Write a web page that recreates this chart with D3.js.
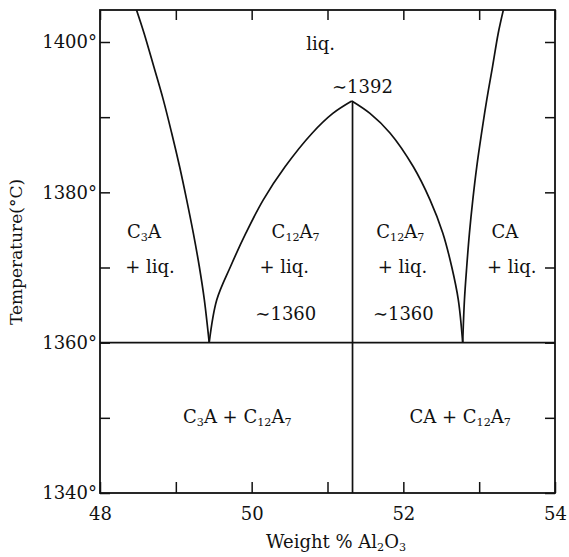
<!DOCTYPE html>
<html>
<head>
<meta charset="utf-8">
<script src="https://cdn.jsdelivr.net/npm/d3@7.9.0/dist/d3.min.js"></script>
<style>
  body { margin: 0; background: #fff; }
  text { font-family: "DejaVu Serif", "Liberation Serif", serif; fill: #111; }
</style>
</head>
<body>
<svg id="chart" width="569" height="557"></svg>
<script>
// axis ticks
const xTicks = [48, 49, 50, 51, 52, 53, 54];
const xLabels = [48, 50, 52, 54];
const yTicks = [1340, 1350, 1360, 1370, 1380, 1390, 1400];
const yLabels = [1340, 1360, 1380, 1400];

// phase boundaries (wt% Al2O3, °C)
const c3aLiquidus = [[48.48, 1404.3], [48.58, 1401.2], [48.71, 1396.7], [48.835, 1392.3], [48.945, 1387.9],
  [49.05, 1383.4], [49.143, 1379], [49.23, 1374.6], [49.31, 1370.1], [49.376, 1365.7], [49.44, 1360]];
const c12a7Left = [[49.44, 1360], [49.54, 1365.7], [49.72, 1370.1], [49.925, 1374.6], [50.153, 1379],
  [50.44, 1383.4], [50.8, 1387.9], [51.07, 1390.5], [51.32, 1392.15]];
const c12a7Right = [[51.32, 1392.15], [51.56, 1390.5], [51.824, 1387.9], [52.132, 1383.4], [52.352, 1379],
  [52.52, 1374.6], [52.638, 1370.1], [52.725, 1365.7], [52.783, 1360]];
const caLiquidus = [[52.783, 1360], [52.806, 1365.7], [52.836, 1370.1], [52.872, 1374.6], [52.916, 1379],
  [52.968, 1383.4], [53.032, 1387.9], [53.1, 1392.3], [53.176, 1396.7], [53.252, 1401.2], [53.32, 1404.3]];
const eutecticT = 1360;
const congruentX = 51.33;
const congruentT = 1392.15;

// region labels: text, wt%, °C (baseline)
const labels = [
  ["liq.", 50.91, 1398.9],
  ["∼1392", 51.46, 1393.2],
  ["C_3A", 48.58, 1373.9],
  ["+ liq.", 48.66, 1369.3],
  ["C_12A_7", 50.58, 1373.9],
  ["+ liq.", 50.43, 1369.3],
  ["∼1360", 50.45, 1363.0],
  ["C_12A_7", 51.96, 1373.9],
  ["+ liq.", 51.99, 1369.3],
  ["∼1360", 52.0, 1363.0],
  ["CA", 53.34, 1373.9],
  ["+ liq.", 53.43, 1369.3],
  ["C_3A + C_12A_7", 49.81, 1349.3],
  ["CA + C_12A_7", 52.75, 1349.3]
];

const padL = 100, padR = 555, padT = 10, padB = 493;
const x = d3.scaleLinear().domain([48, 54]).range([padL, padR]);
const y = d3.scaleLinear().domain([1340, 1400]).range([padB, 42]);

const svg = d3.select("#chart");

svg.append("clipPath").attr("id", "plot")
  .append("rect").attr("x", padL).attr("y", padT)
  .attr("width", padR - padL).attr("height", padB - padT);

// subscripts written as _digits
function richText(sel, str) {
  let shifted = false;
  str.split(/(_\d+)/).filter(s => s).forEach(part => {
    if (part[0] === "_") {
      sel.append("tspan").attr("font-size", "0.62em").attr("dy", 3).text(part.slice(1));
      shifted = true;
    } else {
      sel.append("tspan").attr("dy", shifted ? -3 : null).text(part);
      shifted = false;
    }
  });
}

const fmtX = d => xLabels.includes(d) ? d : "";
const fmtY = d => yLabels.includes(d) ? d + "°" : "";

function styleAxis(g) {
  g.select(".domain").remove();
  g.selectAll(".tick line").attr("stroke", "#111").attr("stroke-width", 1.5);
  g.selectAll("text").attr("fill", "#111").filter(function() { return this.textContent === ""; }).remove();
  g.attr("font-family", null);
}

svg.append("g").attr("transform", `translate(0,${padB})`)
  .call(d3.axisBottom(x).tickValues(xTicks).tickFormat(fmtX).tickSize(-11).tickPadding(14))
  .call(styleAxis).attr("font-size", 18);
svg.append("g").attr("transform", `translate(0,${padT})`)
  .call(d3.axisTop(x).tickValues(xTicks).tickFormat("").tickSize(-10))
  .call(styleAxis);
svg.append("g").attr("transform", `translate(${padL},0)`)
  .call(d3.axisLeft(y).tickValues(yTicks).tickFormat(fmtY).tickSize(-10).tickPadding(3))
  .call(styleAxis).attr("font-size", 18);
svg.append("g").attr("transform", `translate(${padR},0)`)
  .call(d3.axisRight(y).tickValues(yTicks).tickFormat("").tickSize(-10))
  .call(styleAxis);

svg.append("rect").attr("x", padL).attr("y", padT)
  .attr("width", padR - padL).attr("height", padB - padT)
  .attr("fill", "none").attr("stroke", "#111").attr("stroke-width", 1.8);

const line = d3.line().x(d => x(d[0])).y(d => y(d[1])).curve(d3.curveCatmullRom);
const plot = svg.append("g").attr("clip-path", "url(#plot)");
[c3aLiquidus, c12a7Left, c12a7Right, caLiquidus].forEach(pts => {
  plot.append("path").attr("d", line(pts))
    .attr("fill", "none").attr("stroke", "#111").attr("stroke-width", 1.7);
});
plot.append("line")
  .attr("x1", x(48)).attr("x2", x(54)).attr("y1", y(eutecticT)).attr("y2", y(eutecticT))
  .attr("stroke", "#111").attr("stroke-width", 1.7);
plot.append("line")
  .attr("x1", x(congruentX)).attr("x2", x(congruentX)).attr("y1", y(1340)).attr("y2", y(congruentT))
  .attr("stroke", "#111").attr("stroke-width", 1.7);

labels.forEach(([t, lx, ly]) => {
  const el = svg.append("text").attr("x", x(lx)).attr("y", y(ly))
    .attr("text-anchor", "middle").attr("font-size", 18);
  richText(el, t);
});

// axis titles
const xt = svg.append("text").attr("x", 336).attr("y", 548)
  .attr("text-anchor", "middle").attr("font-size", 18);
richText(xt, "Weight % Al_2O_3");

svg.append("text").attr("transform", "translate(22,252) rotate(-90)")
  .attr("text-anchor", "middle").attr("font-size", 17)
  .text("Temperature(°C)");
</script>
</body>
</html>
